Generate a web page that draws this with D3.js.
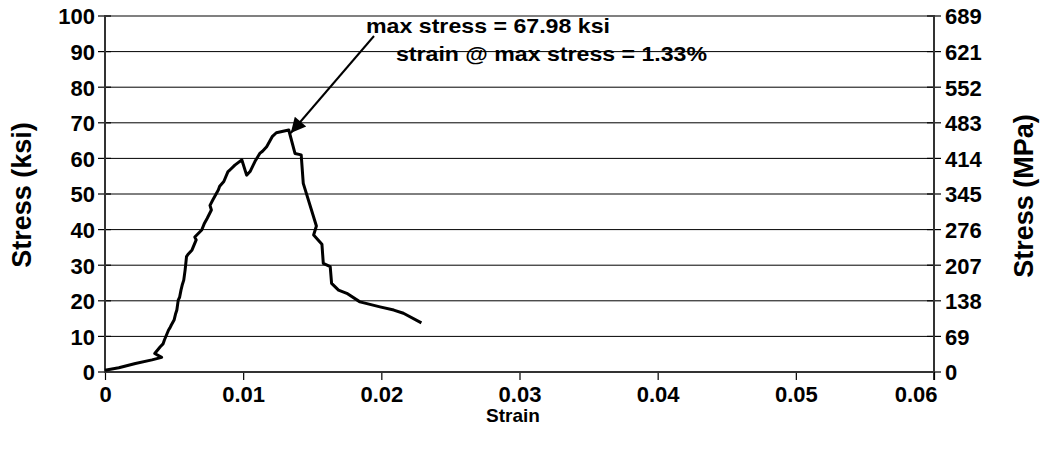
<!DOCTYPE html>
<html>
<head>
<meta charset="utf-8">
<script src="https://cdn.jsdelivr.net/npm/d3@7"></script>
<style>
  html, body { margin: 0; padding: 0; background: #fff; }
  text { font-family: "Liberation Sans", Arial, sans-serif; font-weight: bold; fill: #000; }
</style>
</head>
<body>
<svg id="chart" width="1041" height="460"></svg>
<script>
// ---- data ----
const strain = [0, 0.0010, 0.0022, 0.0034, 0.0041, 0.0036, 0.0040, 0.0042, 0.0043, 0.0046, 0.0047, 0.0048, 0.0050, 0.0051, 0.0052, 0.0053, 0.0054, 0.0055, 0.0056, 0.0057, 0.0058, 0.0059, 0.0060, 0.0063, 0.0066, 0.0065, 0.0070, 0.0072, 0.0074, 0.0077, 0.0076, 0.0078, 0.0082, 0.0083, 0.0086, 0.0089, 0.0090, 0.0094, 0.0099, 0.01025, 0.0105, 0.01085, 0.0112, 0.0114, 0.0117, 0.0121, 0.0124, 0.0133, 0.01375, 0.0142, 0.01435, 0.0153, 0.0151, 0.0157, 0.0158, 0.0163, 0.0164, 0.0169, 0.0175, 0.01845, 0.0199, 0.0209, 0.0216, 0.0229];
const stressKsi = [0.5, 1.2, 2.4, 3.4, 4.1, 5.2, 7.1, 7.9, 9.0, 11.8, 12.4, 13.2, 14.6, 16.2, 17.4, 20.2, 21.0, 23.0, 24.6, 25.8, 28.7, 32.4, 33.0, 34.3, 37.1, 37.9, 39.9, 41.8, 43.2, 45.5, 46.8, 48.3, 51.1, 52.2, 53.5, 56.3, 56.6, 58.1, 59.6, 55.3, 56.3, 59.1, 61.4, 62.0, 63.3, 66.1, 67.2, 67.98, 61.4, 61.0, 53.0, 41.0, 38.5, 35.9, 30.5, 29.6, 24.9, 23.0, 22.1, 19.7, 18.3, 17.4, 16.5, 13.8];
const xTicks = [0, 0.01, 0.02, 0.03, 0.04, 0.05, 0.06];
const xTickLabels = ["0", "0.01", "0.02", "0.03", "0.04", "0.05", "0.06"];
const yTicks = [0, 10, 20, 30, 40, 50, 60, 70, 80, 90, 100];
const mpaLabels = ["0", "69", "138", "207", "276", "345", "414", "483", "552", "621", "689"];
const peak = { strain: 0.0133, stress: 67.98 };
const annotation = ["max stress = 67.98 ksi", "strain @ max stress = 1.33%"];

// ---- layout ----
const svg = d3.select("#chart");
const L = 105, R = 934, T = 16, B = 372;
const x = d3.scaleLinear().domain([0, 0.06]).range([L, R]);
const y = d3.scaleLinear().domain([0, 100]).range([B, T]);

// gridlines
svg.append("g").selectAll("line").data(yTicks.filter(d => d > 0 && d < 100)).join("line")
  .attr("x1", L).attr("x2", R).attr("y1", d => y(d)).attr("y2", d => y(d))
  .attr("stroke", "#000").attr("stroke-width", 1);
svg.append("line").attr("x1", L).attr("x2", R).attr("y1", y(100)).attr("y2", y(100))
  .attr("stroke", "#808080").attr("stroke-width", 2);

// left axis
const yAxisL = d3.axisLeft(y).tickValues(yTicks).tickSize(0).tickPadding(10).tickFormat(d3.format("d"));
const gL = svg.append("g").attr("transform", `translate(${L},0)`).call(yAxisL);
gL.select(".domain").remove();
gL.selectAll("text").style("font-size", "22px").attr("dy", "0.36em");
svg.append("g").selectAll("line").data(yTicks).join("line")
  .attr("x1", L - 7).attr("x2", L + 6).attr("y1", d => y(d)).attr("y2", d => y(d))
  .attr("stroke", "#000").attr("stroke-width", 1.2);
svg.append("line").attr("x1", L).attr("x2", L).attr("y1", T - 1).attr("y2", B + 1)
  .attr("stroke", "#333").attr("stroke-width", 2);

// right axis (MPa)
const yAxisR = d3.axisRight(y).tickValues(yTicks).tickSize(0).tickPadding(11)
  .tickFormat((d, i) => mpaLabels[i]);
const gR = svg.append("g").attr("transform", `translate(${R},0)`).call(yAxisR);
gR.select(".domain").remove();
gR.selectAll("text").style("font-size", "22px").attr("dy", "0.36em");
svg.append("g").selectAll("line").data(yTicks).join("line")
  .attr("x1", R - 7).attr("x2", R + 7).attr("y1", d => y(d)).attr("y2", d => y(d))
  .attr("stroke", "#000").attr("stroke-width", 1.2);
svg.append("line").attr("x1", R).attr("x2", R).attr("y1", T - 1).attr("y2", B + 8)
  .attr("stroke", "#333").attr("stroke-width", 2);

// x axis
const xAxis = d3.axisBottom(x).tickValues(xTicks).tickSize(8).tickPadding(6)
  .tickFormat((d, i) => xTickLabels[i]);
const gX = svg.append("g").attr("transform", `translate(0,${B})`).call(xAxis);
gX.select(".domain").remove();
gX.selectAll("line").attr("stroke", "#000").attr("stroke-width", 1.2);
gX.selectAll("text").style("font-size", "22px");
// last label sits left of the right axis labels
gX.selectAll("text").filter(d => d === 0.06).attr("text-anchor", "end").attr("dx", "3px");
svg.append("line").attr("x1", L).attr("x2", R).attr("y1", B).attr("y2", B)
  .attr("stroke", "#333").attr("stroke-width", 2.2);

// titles
svg.append("text").attr("transform", `translate(31,${(T + B) / 2 + 1}) rotate(-90)`)
  .attr("text-anchor", "middle").style("font-size", "27px").text("Stress (ksi)");
svg.append("text").attr("transform", `translate(1033,${(T + B) / 2 + 2}) rotate(-90)`)
  .attr("text-anchor", "middle").style("font-size", "27px").text("Stress (MPa)");
svg.append("text").attr("x", 513).attr("y", 422)
  .attr("text-anchor", "middle").style("font-size", "19px").text("Strain");

// curve
const pts = strain.map((s, i) => [s, stressKsi[i]]);
svg.append("path").datum(pts)
  .attr("d", d3.line().x(d => x(d[0])).y(d => y(d[1])))
  .attr("fill", "none").attr("stroke", "#000").attr("stroke-width", 3)
  .attr("stroke-linejoin", "round");

// annotation arrow
svg.append("defs").append("marker").attr("id", "arrow")
  .attr("viewBox", "0 0 10 10").attr("refX", 10).attr("refY", 5)
  .attr("markerWidth", 22).attr("markerHeight", 15).attr("markerUnits", "userSpaceOnUse")
  .attr("orient", "auto")
  .append("path").attr("d", "M0,0 L10,5 L0,10 Z").attr("fill", "#000");
svg.append("line")
  .attr("x1", 374).attr("y1", 36)
  .attr("x2", x(peak.strain) + 2).attr("y2", y(peak.stress) + 3)
  .attr("stroke", "#000").attr("stroke-width", 2)
  .attr("marker-end", "url(#arrow)");

svg.append("text").attr("x", 366).attr("y", 33)
  .attr("textLength", 244).attr("lengthAdjust", "spacingAndGlyphs")
  .style("font-size", "21px").text(annotation[0]);
svg.append("text").attr("x", 396).attr("y", 61)
  .attr("textLength", 311).attr("lengthAdjust", "spacingAndGlyphs")
  .style("font-size", "21px").text(annotation[1]);
</script>
</body>
</html>
